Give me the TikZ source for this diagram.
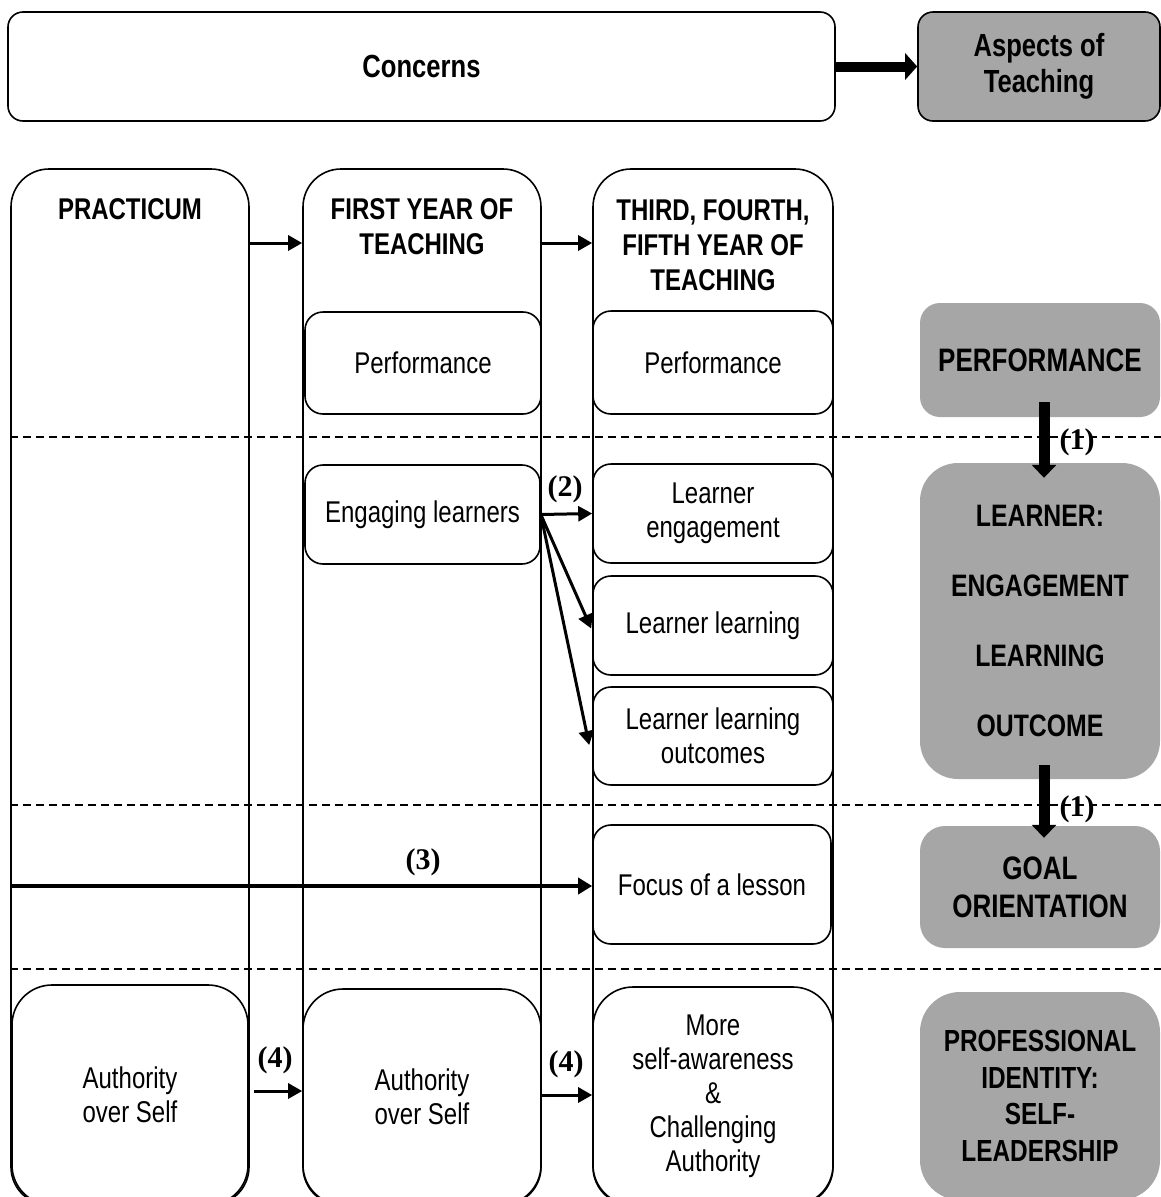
\documentclass[tikz,border=0pt]{standalone}
\usepackage{fontspec}
\setmainfont{Liberation Sans}[FakeStretch=0.80]
\newfontfamily\lblfont{Liberation Serif}
\usetikzlibrary{arrows.meta}
\definecolor{boxgray}{HTML}{A6A6A6}
\begin{document}
\begin{tikzpicture}[x=1pt,y=-1pt,
  col/.style={draw, line width=1.6pt, rounded corners=38pt, inner sep=0pt},
  wbox/.style={draw, line width=1.6pt, fill=white, rounded corners=18pt, align=center, inner sep=0pt,
    font=\fontsize{30}{34}\selectfont},
  gbox/.style={fill=boxgray, rounded corners=20pt, align=center, inner sep=0pt,
    font=\bfseries\fontsize{30.5}{36.5}\selectfont},
  hdr/.style={align=center, inner sep=0pt, font=\bfseries\fontsize{30}{35}\selectfont},
  flow/.style={-{Triangle[length=14pt,width=15pt]}, line width=3pt},
  bigarrow/.style={-{Triangle[length=13pt,width=24pt]}, line width=11pt},
  lbl/.style={inner sep=0pt, font=\lblfont\bfseries\fontsize{30}{32}\selectfont},
  sep/.style={dash pattern=on 8pt off 5pt, line width=1.2pt}]
\useasboundingbox (0,0) rectangle (1161,1197);
\clip (0,0) rectangle (1161,1197);

% top row
\node[wbox, rounded corners=15pt, minimum width=827pt, minimum height=109pt,
  font=\bfseries\fontsize{32}{35}\selectfont] (concerns) at (421.5,66.5) {Concerns};
\node[gbox, draw, line width=1.6pt, rounded corners=15pt, minimum width=242pt, minimum height=109pt,
  font=\bfseries\fontsize{32}{36}\selectfont] (aspects) at (1039,66.5) {Aspects of\\Teaching};
\draw[-{Triangle[length=12pt,width=26pt]}, line width=10pt] (concerns.east) -- (aspects.west);

% columns
\node[col, minimum width=238pt, minimum height=1036pt] (c1) at (130,687) {};
\node[col, minimum width=238pt, minimum height=1036pt] (c2) at (422,687) {};
\node[col, minimum width=240pt, minimum height=1036pt] (c3) at (713,687) {};
\node[hdr] (t1) at (130,209) {PRACTICUM};
\node[hdr] (t2) at (422,227) {FIRST YEAR OF\\TEACHING};
\node[hdr] (t3) at (713,245) {THIRD, FOURTH,\\FIFTH YEAR OF\\TEACHING};
\draw[flow] (c1.east |- 0,243) -- (c2.west |- 0,243);
\draw[flow] (c2.east |- 0,243) -- (c3.west |- 0,243);

% separators
\draw[sep] (c1.west |- 0,437) -- (1161,437);
\draw[sep] (c1.west |- 0,805) -- (1161,805);
\draw[sep] (c1.west |- 0,969) -- (1161,969);

% performance row
\node[wbox, minimum width=236pt, minimum height=102pt] (p1) at (423,363) {Performance};
\node[wbox, minimum width=240pt, minimum height=103pt] (p2) at (713,362.5) {Performance};
\node[gbox, minimum width=240pt, minimum height=114pt,
  font=\bfseries\fontsize{32.5}{36}\selectfont] (gperf) at (1040,360) {PERFORMANCE};

% learner row
\node[wbox, minimum width=235pt, minimum height=99pt] (eng) at (422.5,514.5) {Engaging learners};
\node[wbox, minimum width=240pt, minimum height=99pt] (le) at (713,513.5) {Learner\\engagement};
\node[wbox, minimum width=240pt, minimum height=99pt] (ll) at (713,625.5) {Learner learning};
\node[wbox, minimum width=240pt, minimum height=98pt] (lo) at (713,736) {Learner learning\\outcomes};
\node[gbox, rounded corners=38pt, minimum width=240pt, minimum height=316pt,
  font=\bfseries\fontsize{31}{70}\selectfont] (glearn) at (1040,621) {LEARNER:\\ENGAGEMENT\\LEARNING\\OUTCOME};

% goal row
\node[wbox, minimum width=238pt, minimum height=119pt] (focus) at (712,884.5) {Focus of a lesson};
\node[gbox, rounded corners=25pt, minimum width=240pt, minimum height=122pt,
  font=\bfseries\fontsize{32.5}{38}\selectfont] (ggoal) at (1040,887) {GOAL\\ORIENTATION};

% identity row
\node[wbox, rounded corners=40pt, minimum width=236pt, minimum height=220pt] (a1) at (130,1095) {Authority\\over Self};
\node[wbox, rounded corners=40pt, minimum width=238pt, minimum height=216pt] (a2) at (422,1097) {Authority\\over Self};
\node[wbox, rounded corners=40pt, minimum width=240pt, minimum height=218pt] (more) at (713,1096) {More\\self-awareness\\\&\\Challenging\\Authority};
\node[gbox, rounded corners=40pt, minimum width=240pt, minimum height=208pt] (gprof) at (1040,1096) {PROFESSIONAL\\IDENTITY:\\SELF-\\LEADERSHIP};

% (1) arrows
\draw[bigarrow] ([xshift=4pt,yshift=15pt]gperf.south) -- ([xshift=4pt,yshift=-15pt]glearn.north);
\draw[bigarrow] ([xshift=4pt,yshift=14pt]glearn.south) -- ([xshift=4pt,yshift=-12pt]ggoal.north);
\node[lbl] (l1a) at (1077,442) {(1)};
\node[lbl] (l1b) at (1077,809) {(1)};

% (2) arrows
\draw[flow] (eng.east) -- (le.west);
\draw[flow] (eng.east) -- ([xshift=-1pt,yshift=-3pt]ll.west);
\draw[flow] (eng.east) -- ([xshift=-3pt,yshift=-9pt]lo.west);
\node[lbl] (l2) at (565,489) {(2)};

% (3) arrow
\draw[-{Triangle[length=14pt,width=16pt]}, line width=4pt] (c1.west |- 0,886) -- (focus.west |- 0,886);
\node[lbl] (l3) at (423,862) {(3)};

% (4) arrows
\draw[flow] ([xshift=5pt]a1.east |- 0,1091) -- (a2.west |- 0,1091);
\draw[flow] (a2.east |- 0,1095) -- (more.west |- 0,1095);
\node[lbl] (l4a) at (275,1060) {(4)};
\node[lbl] (l4b) at (566,1064) {(4)};
\end{tikzpicture}
\end{document}
